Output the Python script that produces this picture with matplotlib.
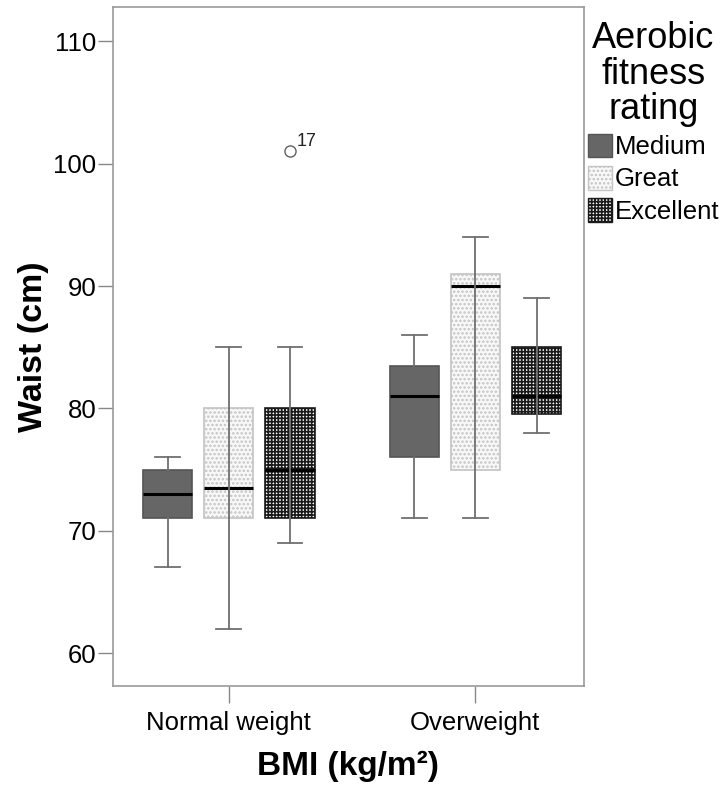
import matplotlib
matplotlib.use("Agg")
import matplotlib.pyplot as plt
from matplotlib.patches import Patch

plt.rcParams['font.family'] = ['Liberation Sans', 'DejaVu Sans']
plt.rcParams['hatch.linewidth'] = 1.2

groups = ["Normal weight", "Overweight"]
ratings = ["Medium", "Great", "Excellent"]

# five number summaries, [group][rating]
whislo = [[67, 62, 69], [71, 71, 78]]
q1 = [[71, 71, 71], [76, 75, 79.5]]
med = [[73, 73.5, 75], [81, 90, 81]]
q3 = [[75, 80, 80], [83.5, 91, 85]]
whishi = [[76, 85, 85], [86, 94, 89]]
# outliers (value, case number)
fliers = [[[], [], [(101, "17")]], [[], [], []]]

faces = ["#666666", "#f8f8f8", "#ffffff"]
edges = ["#555555", "#c4c4c4", "#1a1a1a"]
hatches = [None, "....", "+++++"]

offset = 0.248
width = 0.2

fig = plt.figure(figsize=(7.28, 7.89), dpi=100)
ax = fig.add_axes([0.155, 0.1305, 0.647, 0.8605])

for g in range(len(groups)):
    for r in range(len(ratings)):
        pos = g + (r - 1) * offset
        stats = [{
            "whislo": whislo[g][r], "q1": q1[g][r], "med": med[g][r],
            "q3": q3[g][r], "whishi": whishi[g][r],
            "fliers": [v for v, lab in fliers[g][r]],
        }]
        bp = ax.bxp(stats, positions=[pos], widths=width, patch_artist=True,
                    boxprops=dict(facecolor=faces[r], edgecolor=edges[r], linewidth=1.2),
                    medianprops=dict(color="black", linewidth=2.2),
                    whiskerprops=dict(color="#707070", linewidth=1.3),
                    capprops=dict(color="#707070", linewidth=1.3),
                    capwidths=width / 2,
                    flierprops=dict(marker="o", markerfacecolor="white",
                                    markeredgecolor="#606060", markersize=8))
        if hatches[r]:
            bp["boxes"][0].set_hatch(hatches[r])
        # whisker line shows through the lighter boxes
        if r > 0:
            ax.vlines(pos, q1[g][r], q3[g][r], color="#707070", linewidth=1.3, zorder=3)
        for v, lab in fliers[g][r]:
            ax.annotate(lab, (pos, v), xytext=(5, 4), textcoords="offset points",
                        fontsize=13, color="#222222")

ax.set_xlim(-0.47, 1.44)
ax.set_ylim(57.3, 112.8)
ax.set_yticks([60, 70, 80, 90, 100, 110])
ax.set_xticks(range(len(groups)))
ax.set_xticklabels(groups)
ax.tick_params(axis="both", labelsize=18.5, color="#888888", width=1, direction="out")
ax.tick_params(axis="y", length=11, pad=1)
ax.tick_params(axis="x", length=12, pad=6)
for s in ax.spines.values():
    s.set_color("#999999")
    s.set_linewidth(1.2)

ax.set_ylabel("Waist (cm)", fontsize=24.5, fontweight="bold", labelpad=3)
ax.set_xlabel("BMI (kg/m²)", fontsize=24, fontweight="bold", labelpad=11)

handles = []
for r in range(len(ratings)):
    handles.append(Patch(facecolor=faces[r], edgecolor=edges[r], hatch=hatches[r], label=ratings[r]))
leg = ax.legend(handles=handles, title="Aerobic\nfitness\nrating", loc="upper left",
                bbox_to_anchor=(1.0, 0.985), frameon=False, fontsize=18.5,
                title_fontsize=26, handlelength=0.95, handleheight=1.05,
                handletextpad=0.1, labelspacing=0.25, borderaxespad=0.05,
                borderpad=0.1)
leg.get_title().set_multialignment("center")
leg.get_title().set_linespacing(1.02)

fig.savefig("out.png", dpi=100)
